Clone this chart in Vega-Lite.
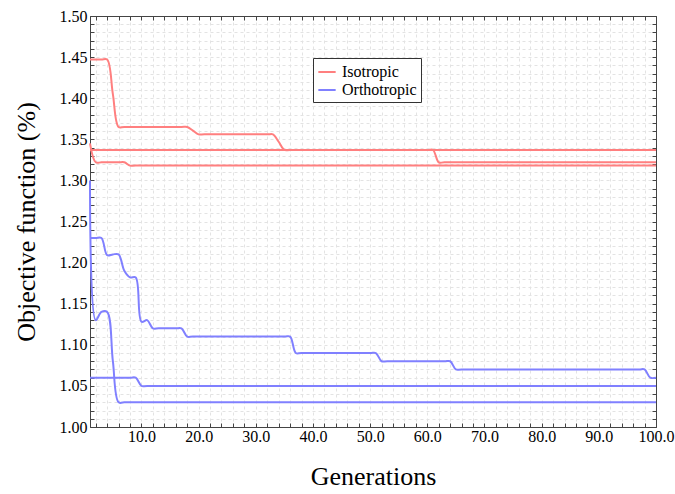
{
  "$schema": "https://vega.github.io/schema/vega-lite/v6.json",
  "width": 566,
  "height": 411,
  "autosize": "none",
  "padding": {"left": 90, "top": 16, "right": 19, "bottom": 67},
  "background": "white",
  "config": {"view": {"stroke": "#444", "strokeWidth": 1}, "font": "Liberation Serif"},
  "data": {"values": [
    {"run": "I1", "material": "Isotropic", "gen": 1, "value": 1.447},
    {"run": "I1", "material": "Isotropic", "gen": 3, "value": 1.447},
    {"run": "I1", "material": "Isotropic", "gen": 4, "value": 1.447},
    {"run": "I1", "material": "Isotropic", "gen": 5, "value": 1.405},
    {"run": "I1", "material": "Isotropic", "gen": 6, "value": 1.365},
    {"run": "I1", "material": "Isotropic", "gen": 7, "value": 1.365},
    {"run": "I1", "material": "Isotropic", "gen": 17, "value": 1.365},
    {"run": "I1", "material": "Isotropic", "gen": 18, "value": 1.365},
    {"run": "I1", "material": "Isotropic", "gen": 19, "value": 1.3605},
    {"run": "I1", "material": "Isotropic", "gen": 20, "value": 1.356},
    {"run": "I1", "material": "Isotropic", "gen": 21, "value": 1.356},
    {"run": "I1", "material": "Isotropic", "gen": 32, "value": 1.356},
    {"run": "I1", "material": "Isotropic", "gen": 33, "value": 1.356},
    {"run": "I1", "material": "Isotropic", "gen": 34, "value": 1.347},
    {"run": "I1", "material": "Isotropic", "gen": 35, "value": 1.337},
    {"run": "I1", "material": "Isotropic", "gen": 36, "value": 1.337},
    {"run": "I1", "material": "Isotropic", "gen": 60, "value": 1.337},
    {"run": "I1", "material": "Isotropic", "gen": 61, "value": 1.337},
    {"run": "I1", "material": "Isotropic", "gen": 62, "value": 1.322},
    {"run": "I1", "material": "Isotropic", "gen": 63, "value": 1.322},
    {"run": "I1", "material": "Isotropic", "gen": 100, "value": 1.322},
    {"run": "I2", "material": "Isotropic", "gen": 1, "value": 1.337},
    {"run": "I2", "material": "Isotropic", "gen": 100, "value": 1.337},
    {"run": "I3", "material": "Isotropic", "gen": 1, "value": 1.345},
    {"run": "I3", "material": "Isotropic", "gen": 2, "value": 1.322},
    {"run": "I3", "material": "Isotropic", "gen": 3, "value": 1.322},
    {"run": "I3", "material": "Isotropic", "gen": 6, "value": 1.322},
    {"run": "I3", "material": "Isotropic", "gen": 7, "value": 1.322},
    {"run": "I3", "material": "Isotropic", "gen": 8, "value": 1.318},
    {"run": "I3", "material": "Isotropic", "gen": 9, "value": 1.318},
    {"run": "I3", "material": "Isotropic", "gen": 100, "value": 1.318},
    {"run": "O1", "material": "Orthotropic", "gen": 1, "value": 1.30},
    {"run": "O1", "material": "Orthotropic", "gen": 2, "value": 1.13},
    {"run": "O1", "material": "Orthotropic", "gen": 3, "value": 1.14},
    {"run": "O1", "material": "Orthotropic", "gen": 4, "value": 1.14},
    {"run": "O1", "material": "Orthotropic", "gen": 5, "value": 1.08},
    {"run": "O1", "material": "Orthotropic", "gen": 6, "value": 1.03},
    {"run": "O1", "material": "Orthotropic", "gen": 7, "value": 1.03},
    {"run": "O1", "material": "Orthotropic", "gen": 100, "value": 1.03},
    {"run": "O2", "material": "Orthotropic", "gen": 1, "value": 1.23},
    {"run": "O2", "material": "Orthotropic", "gen": 2, "value": 1.23},
    {"run": "O2", "material": "Orthotropic", "gen": 3, "value": 1.23},
    {"run": "O2", "material": "Orthotropic", "gen": 4, "value": 1.209},
    {"run": "O2", "material": "Orthotropic", "gen": 5, "value": 1.21},
    {"run": "O2", "material": "Orthotropic", "gen": 6, "value": 1.21},
    {"run": "O2", "material": "Orthotropic", "gen": 7, "value": 1.19},
    {"run": "O2", "material": "Orthotropic", "gen": 8, "value": 1.182},
    {"run": "O2", "material": "Orthotropic", "gen": 9, "value": 1.182},
    {"run": "O2", "material": "Orthotropic", "gen": 10, "value": 1.128},
    {"run": "O2", "material": "Orthotropic", "gen": 11, "value": 1.13},
    {"run": "O2", "material": "Orthotropic", "gen": 12, "value": 1.12},
    {"run": "O2", "material": "Orthotropic", "gen": 13, "value": 1.12},
    {"run": "O2", "material": "Orthotropic", "gen": 16, "value": 1.12},
    {"run": "O2", "material": "Orthotropic", "gen": 17, "value": 1.12},
    {"run": "O2", "material": "Orthotropic", "gen": 18, "value": 1.11},
    {"run": "O2", "material": "Orthotropic", "gen": 19, "value": 1.11},
    {"run": "O2", "material": "Orthotropic", "gen": 35, "value": 1.11},
    {"run": "O2", "material": "Orthotropic", "gen": 36, "value": 1.11},
    {"run": "O2", "material": "Orthotropic", "gen": 37, "value": 1.09},
    {"run": "O2", "material": "Orthotropic", "gen": 38, "value": 1.09},
    {"run": "O2", "material": "Orthotropic", "gen": 50, "value": 1.09},
    {"run": "O2", "material": "Orthotropic", "gen": 51, "value": 1.09},
    {"run": "O2", "material": "Orthotropic", "gen": 52, "value": 1.08},
    {"run": "O2", "material": "Orthotropic", "gen": 53, "value": 1.08},
    {"run": "O2", "material": "Orthotropic", "gen": 63, "value": 1.08},
    {"run": "O2", "material": "Orthotropic", "gen": 64, "value": 1.08},
    {"run": "O2", "material": "Orthotropic", "gen": 65, "value": 1.07},
    {"run": "O2", "material": "Orthotropic", "gen": 66, "value": 1.07},
    {"run": "O2", "material": "Orthotropic", "gen": 97, "value": 1.07},
    {"run": "O2", "material": "Orthotropic", "gen": 98, "value": 1.07},
    {"run": "O2", "material": "Orthotropic", "gen": 99, "value": 1.06},
    {"run": "O2", "material": "Orthotropic", "gen": 100, "value": 1.06},
    {"run": "O3", "material": "Orthotropic", "gen": 1, "value": 1.06},
    {"run": "O3", "material": "Orthotropic", "gen": 8, "value": 1.06},
    {"run": "O3", "material": "Orthotropic", "gen": 9, "value": 1.06},
    {"run": "O3", "material": "Orthotropic", "gen": 10, "value": 1.05},
    {"run": "O3", "material": "Orthotropic", "gen": 11, "value": 1.05},
    {"run": "O3", "material": "Orthotropic", "gen": 100, "value": 1.05}
  ]},
  "layer": [
    {
      "mark": {"type": "line", "interpolate": "catmull-rom", "strokeWidth": 2},
      "encoding": {
        "x": {
          "field": "gen", "type": "quantitative",
          "scale": {"domain": [1, 100], "nice": false, "zero": false},
          "axis": {
            "orient": "bottom",
            "values": [2,4,6,8,10,12,14,16,18,20,22,24,26,28,30,32,34,36,38,40,42,44,46,48,50,52,54,56,58,60,62,64,66,68,70,72,74,76,78,80,82,84,86,88,90,92,94,96,98,100],
            "labelExpr": "datum.value % 10 == 0 ? format(datum.value, '.1f') : ''",
            "labelOverlap": false, "labelFlush": false, "labelBound": false,
            "grid": true, "gridDash": [3, 3], "gridColor": "#e3e3e3", "gridWidth": 1,
            "tickSize": -4, "tickColor": "#444", "domainColor": "#444",
            "labelFont": "Liberation Serif", "labelFontSize": 16, "labelColor": "black", "labelPadding": 5,
            "title": "Generations", "titleFont": "Liberation Serif", "titleFontSize": 26, "titleFontWeight": "normal",
            "titleColor": "black", "titleY": 57, "titleBaseline": "alphabetic"
          }
        },
        "y": {
          "field": "value", "type": "quantitative",
          "scale": {"domain": [1.0, 1.5], "nice": false, "zero": false},
          "axis": {
            "orient": "left",
            "values": [1.00,1.01,1.02,1.03,1.04,1.05,1.06,1.07,1.08,1.09,1.10,1.11,1.12,1.13,1.14,1.15,1.16,1.17,1.18,1.19,1.20,1.21,1.22,1.23,1.24,1.25,1.26,1.27,1.28,1.29,1.30,1.31,1.32,1.33,1.34,1.35,1.36,1.37,1.38,1.39,1.40,1.41,1.42,1.43,1.44,1.45,1.46,1.47,1.48,1.49,1.50],
            "labelExpr": "abs(datum.value*20 - round(datum.value*20)) < 0.001 ? format(datum.value, '.2f') : ''",
            "labelOverlap": false, "labelFlush": false, "labelBound": false,
            "grid": true, "gridDash": [3, 3], "gridColor": "#e3e3e3", "gridWidth": 1,
            "tickSize": -4, "tickColor": "#444", "domainColor": "#444",
            "labelFont": "Liberation Serif", "labelFontSize": 16, "labelColor": "black", "labelPadding": 7,
            "title": "Objective function (%)", "titleFont": "Liberation Serif", "titleFontSize": 26, "titleFontWeight": "normal",
            "titleColor": "black", "titleX": -56, "titleBaseline": "alphabetic", "titleAngle": -90
          }
        },
        "color": {
          "field": "material", "type": "nominal",
          "scale": {"domain": ["Isotropic", "Orthotropic"], "range": ["#ff7f7f", "#8080ff"]},
          "legend": {
            "orient": "none", "legendX": 223, "legendY": 42, "title": null, "direction": "vertical",
            "symbolType": "stroke", "symbolStrokeWidth": 2, "symbolSize": 300,
            "labelFont": "Liberation Serif", "labelFontSize": 16, "labelColor": "black",
            "strokeColor": "#333", "fillColor": "white", "padding": 4, "rowPadding": 0, "labelOffset": 5
          }
        },
        "detail": {"field": "run", "type": "nominal"}
      }
    },
    {
      "mark": {"type": "line", "opacity": 0},
      "encoding": {
        "x": {
          "field": "gen", "type": "quantitative",
          "axis": {
            "orient": "top",
            "values": [2,4,6,8,10,12,14,16,18,20,22,24,26,28,30,32,34,36,38,40,42,44,46,48,50,52,54,56,58,60,62,64,66,68,70,72,74,76,78,80,82,84,86,88,90,92,94,96,98,100],
            "labels": false, "grid": false, "title": null,
            "tickSize": -4, "tickColor": "#444", "domainColor": "#444"
          }
        },
        "y": {
          "field": "value", "type": "quantitative",
          "axis": {
            "orient": "right",
            "values": [1.00,1.01,1.02,1.03,1.04,1.05,1.06,1.07,1.08,1.09,1.10,1.11,1.12,1.13,1.14,1.15,1.16,1.17,1.18,1.19,1.20,1.21,1.22,1.23,1.24,1.25,1.26,1.27,1.28,1.29,1.30,1.31,1.32,1.33,1.34,1.35,1.36,1.37,1.38,1.39,1.40,1.41,1.42,1.43,1.44,1.45,1.46,1.47,1.48,1.49,1.50],
            "labels": false, "grid": false, "title": null,
            "tickSize": -4, "tickColor": "#444", "domainColor": "#444"
          }
        },
        "detail": {"field": "run", "type": "nominal"}
      }
    }
  ],
  "resolve": {"axis": {"x": "independent", "y": "independent"}}
}
